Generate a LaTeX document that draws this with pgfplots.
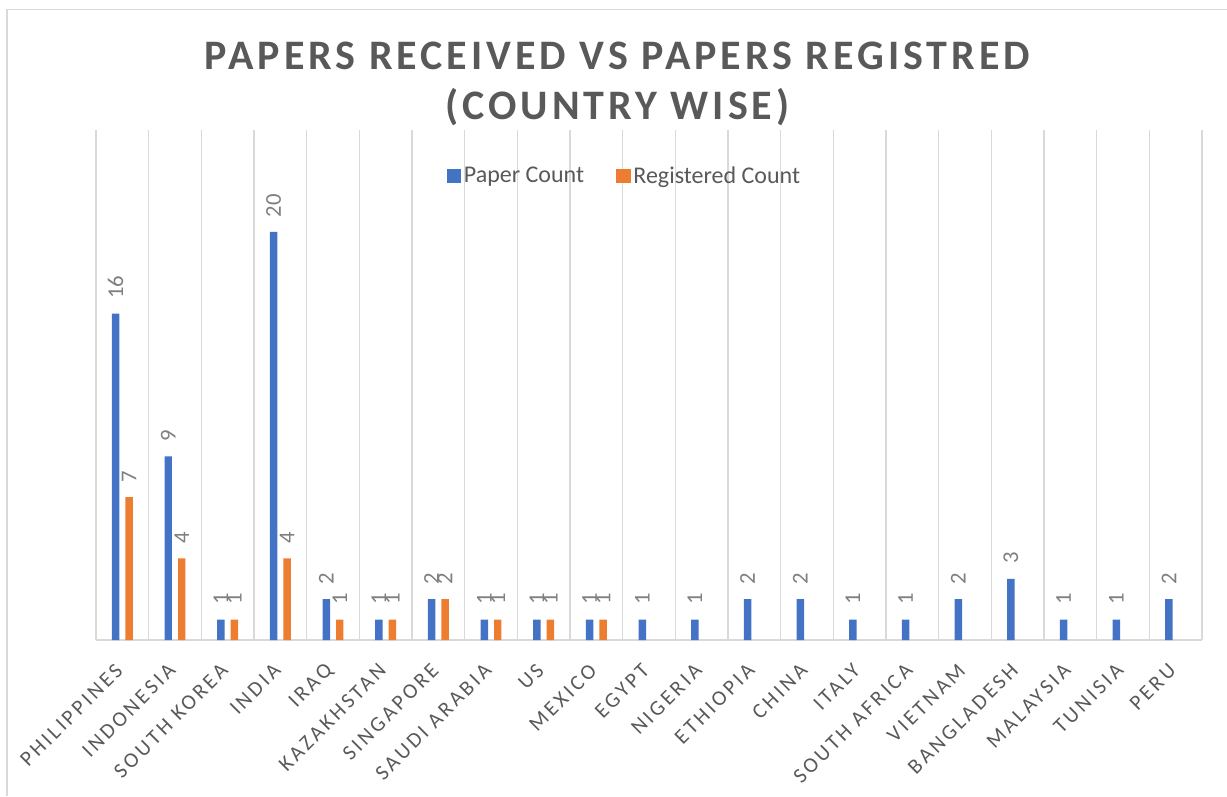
\documentclass[border=0pt]{standalone}
\usepackage{pgfplots}
\pgfplotsset{compat=1.18}
\usepackage{fontspec}
\setmainfont{Carlito}
\newfontfamily\titlefont[LetterSpace=9.5]{Carlito}
\newfontfamily\tickfont[LetterSpace=14]{Carlito}
\definecolor{pblue}{HTML}{4472C4}
\definecolor{porange}{HTML}{ED7D31}
\definecolor{gridgray}{HTML}{D9D9D9}
\definecolor{txtgray}{HTML}{595959}
\definecolor{lblgray}{HTML}{7F7F7F}
\begin{document}
\begin{tikzpicture}
\begin{axis}[
  at={(0pt,0pt)}, anchor=south west,
  scale only axis, width=829.5pt, height=382.5pt,
  xmin=-0.5, xmax=20.5, ymin=0, ymax=25,
  /pgf/number format/assume math mode=true,
  ybar=4.5pt, bar width=5.6pt,
  axis x line*=bottom, axis y line=none,
  x axis line style={draw=gridgray, line width=1.1pt},
  xtick={0,...,20},
  xticklabels={PHILIPPINES,INDONESIA,SOUTH KOREA,INDIA,IRAQ,KAZAKHSTAN,SINGAPORE,SAUDI ARABIA,US,MEXICO,EGYPT,NIGERIA,ETHIOPIA,CHINA,ITALY,SOUTH AFRICA,VIETNAM,BANGLADESH,MALAYSIA,TUNISIA,PERU},
  major tick length=0pt,
  minor xtick={-0.5,0.5,...,20.5},
  minor tick length=0pt,
  xminorgrids,
  minor grid style={draw=gridgray, line width=1.1pt},
  ytick=\empty,
  xticklabel shift=18pt,
  xticklabel style={rotate=45, anchor=east, font=\tickfont\fontsize{16}{16}\selectfont, text=txtgray},
  nodes near coords,
  every node near coord/.append style={font=\fontsize{17}{17}\selectfont, text=lblgray, rotate=90, anchor=west, inner xsep=11pt, inner ysep=0pt},
  legend columns=2,
  legend style={at={(0.478,0.91)}, anchor=center, draw=none, fill=none,
    font=\fontsize{18}{18}\selectfont, text=txtgray,
    /tikz/every even column/.append style={column sep=22pt}},
  legend image code/.code={\path[#1, draw=none] (0pt,-5.5pt) rectangle (11pt,5.5pt);},
  clip=false,
]
\addplot[fill=pblue, draw=none] coordinates {
 (0,16) (1,9) (2,1) (3,20) (4,2) (5,1) (6,2) (7,1) (8,1) (9,1)
 (10,1) (11,1) (12,2) (13,2) (14,1) (15,1) (16,2) (17,3) (18,1) (19,1) (20,2)};
\addlegendentry{Paper Count}
\addplot[fill=porange, draw=none] coordinates {
 (0,7) (1,4) (2,1) (3,4) (4,1) (5,1) (6,2) (7,1) (8,1) (9,1)};
\addlegendentry{Registered Count}
\end{axis}
\pgfresetboundingbox
\path[use as bounding box] (-72pt,-117pt) rectangle (848.25pt,480pt);
\draw[gridgray, line width=1.1pt] (-66.75pt,-117pt) -- (-66.75pt,472.9pt) -- (848.25pt,472.9pt);
\node[anchor=base, font=\titlefont\bfseries\fontsize{31.5}{31.5}\selectfont, text=txtgray] at (391.1pt,427.5pt) {PAPERS RECEIVED VS PAPERS REGISTRED};
\node[anchor=base, font=\titlefont\bfseries\fontsize{31.5}{31.5}\selectfont, text=txtgray] at (391.1pt,390pt) {(COUNTRY WISE)};
\end{tikzpicture}
\end{document}
